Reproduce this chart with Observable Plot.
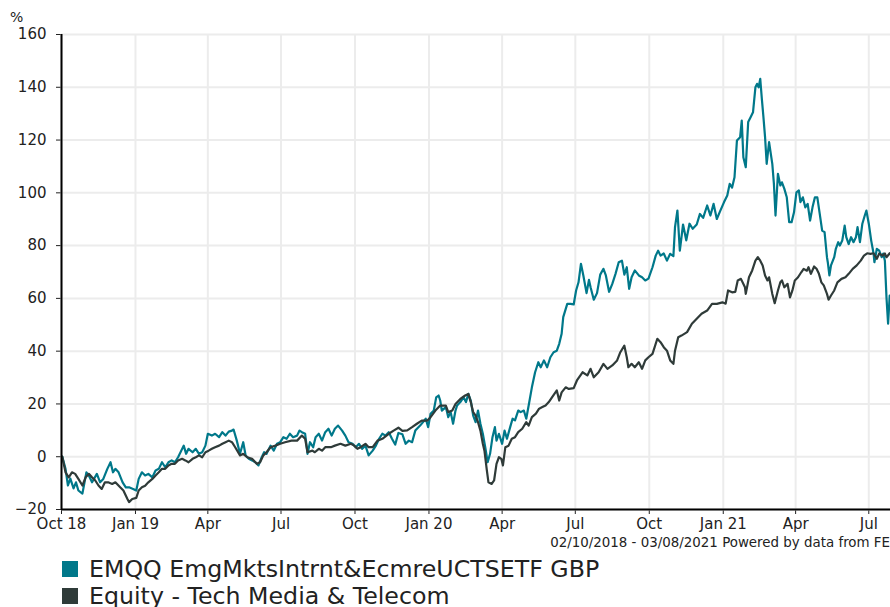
<!DOCTYPE html>
<html><head><meta charset="utf-8">
<script src="https://cdn.jsdelivr.net/npm/d3@7"></script>
<script src="https://cdn.jsdelivr.net/npm/@observablehq/plot@0.6"></script>
<style>
body{margin:0;background:#fff;font-family:"DejaVu Sans",Verdana,sans-serif;color:#222;}
#wrap{position:relative;width:890px;height:607px;overflow:hidden;}
#chart{position:absolute;left:0;top:0;}
#unit{position:absolute;left:10px;top:9px;font-size:14px;}
#caption{position:absolute;right:0;top:535px;font-size:13.4px;white-space:nowrap;}
#legend{position:absolute;left:62px;top:555px;font-size:23.7px;}
.item{display:flex;align-items:center;height:27px;white-space:nowrap;}
.sw{width:16px;height:16px;margin-right:11px;flex:none;}
</style></head><body>
<div id="wrap"><div id="chart"></div><div id="unit">%</div><div id="caption"></div><div id="legend"></div></div>
<script>
const seriesNames = ["EMQQ EmgMktsIntrnt&EcmreUCTSETF GBP", "Equity - Tech Media & Telecom"];
const seriesColors = ["#00788a", "#2f3b39"];
const captionText = "02/10/2018 - 03/08/2021 Powered by data from FE";
const unitLabel = "%";
const yTicks = [-20, 0, 20, 40, 60, 80, 100, 120, 140, 160];
const xTickDates = ["2018-10-01","2019-01-01","2019-04-01","2019-07-01","2019-10-01","2020-01-01","2020-04-01","2020-07-01","2020-10-01","2021-01-01","2021-04-01","2021-07-01"];
const xTickLabels = ["Oct 18","Jan 19","Apr","Jul","Oct","Jan 20","Apr","Jul","Oct","Jan 21","Apr","Jul"];
const xDomain = ["2018-10-01", "2021-07-28"];

const emqqDates = ["2018-10-02","2018-10-06","2018-10-09","2018-10-12","2018-10-16","2018-10-19","2018-10-22","2018-10-27","2018-11-01","2018-11-04","2018-11-08","2018-11-14","2018-11-18","2018-11-22","2018-11-27","2018-12-01","2018-12-04","2018-12-07","2018-12-11","2018-12-16","2018-12-20","2018-12-24","2018-12-29","2019-01-02","2019-01-05","2019-01-09","2019-01-13","2019-01-17","2019-01-22","2019-01-26","2019-01-30","2019-02-03","2019-02-07","2019-02-11","2019-02-15","2019-02-19","2019-02-23","2019-03-02","2019-03-05","2019-03-08","2019-03-13","2019-03-17","2019-03-21","2019-03-25","2019-03-29","2019-04-01","2019-04-06","2019-04-10","2019-04-15","2019-04-19","2019-04-23","2019-04-27","2019-05-01","2019-05-03","2019-05-07","2019-05-11","2019-05-15","2019-05-18","2019-05-22","2019-05-26","2019-05-30","2019-06-03","2019-06-07","2019-06-10","2019-06-13","2019-06-18","2019-06-22","2019-06-26","2019-06-30","2019-07-04","2019-07-08","2019-07-12","2019-07-16","2019-07-21","2019-07-24","2019-07-27","2019-07-31","2019-08-03","2019-08-06","2019-08-10","2019-08-13","2019-08-17","2019-08-21","2019-08-25","2019-08-29","2019-09-02","2019-09-06","2019-09-10","2019-09-15","2019-09-19","2019-09-23","2019-09-28","2019-10-02","2019-10-06","2019-10-10","2019-10-14","2019-10-18","2019-10-23","2019-10-27","2019-10-31","2019-11-04","2019-11-08","2019-11-12","2019-11-16","2019-11-20","2019-11-24","2019-11-29","2019-12-03","2019-12-07","2019-12-11","2019-12-15","2019-12-21","2019-12-28","2019-12-31","2020-01-03","2020-01-07","2020-01-10","2020-01-13","2020-01-15","2020-01-17","2020-01-22","2020-01-25","2020-01-28","2020-01-31","2020-02-03","2020-02-05","2020-02-09","2020-02-13","2020-02-16","2020-02-19","2020-02-22","2020-02-25","2020-02-28","2020-03-02","2020-03-05","2020-03-08","2020-03-11","2020-03-14","2020-03-17","2020-03-20","2020-03-23","2020-03-25","2020-03-28","2020-04-01","2020-04-04","2020-04-07","2020-04-11","2020-04-14","2020-04-17","2020-04-21","2020-04-24","2020-04-28","2020-05-01","2020-05-04","2020-05-08","2020-05-12","2020-05-16","2020-05-19","2020-05-23","2020-05-27","2020-05-31","2020-06-04","2020-06-08","2020-06-11","2020-06-14","2020-06-16","2020-06-21","2020-06-25","2020-06-29","2020-07-02","2020-07-05","2020-07-08","2020-07-11","2020-07-15","2020-07-18","2020-07-20","2020-07-24","2020-07-28","2020-08-01","2020-08-05","2020-08-08","2020-08-12","2020-08-16","2020-08-20","2020-08-24","2020-08-28","2020-08-31","2020-09-03","2020-09-06","2020-09-09","2020-09-13","2020-09-18","2020-09-22","2020-09-26","2020-09-30","2020-10-05","2020-10-09","2020-10-12","2020-10-15","2020-10-19","2020-10-23","2020-10-27","2020-10-31","2020-11-02","2020-11-05","2020-11-08","2020-11-12","2020-11-16","2020-11-20","2020-11-24","2020-11-29","2020-12-03","2020-12-07","2020-12-12","2020-12-16","2020-12-20","2020-12-24","2020-12-28","2021-01-02","2021-01-06","2021-01-09","2021-01-12","2021-01-15","2021-01-18","2021-01-22","2021-01-24","2021-01-26","2021-01-29","2021-02-01","2021-02-04","2021-02-07","2021-02-10","2021-02-12","2021-02-14","2021-02-16","2021-02-18","2021-02-20","2021-02-22","2021-02-24","2021-02-27","2021-03-03","2021-03-05","2021-03-07","2021-03-10","2021-03-13","2021-03-15","2021-03-18","2021-03-21","2021-03-24","2021-03-27","2021-03-30","2021-04-02","2021-04-05","2021-04-07","2021-04-10","2021-04-13","2021-04-16","2021-04-19","2021-04-22","2021-04-25","2021-04-28","2021-05-01","2021-05-04","2021-05-07","2021-05-10","2021-05-11","2021-05-13","2021-05-15","2021-05-19","2021-05-21","2021-05-24","2021-05-26","2021-05-29","2021-06-01","2021-06-03","2021-06-06","2021-06-09","2021-06-12","2021-06-15","2021-06-17","2021-06-20","2021-06-23","2021-06-26","2021-06-28","2021-07-01","2021-07-04","2021-07-07","2021-07-08","2021-07-11","2021-07-14","2021-07-17","2021-07-19","2021-07-21","2021-07-23","2021-07-25","2021-07-27"];
const emqqValues = [0,-4.6,-10.9,-8.3,-12,-9.7,-12.8,-14,-5.9,-7.1,-9.7,-6.5,-9.7,-8.4,-4.6,-2.1,-5.9,-4.6,-5.9,-9.7,-11.6,-11.6,-12.2,-12.8,-8.4,-5.9,-7.1,-6.5,-7.8,-5.2,-4.6,-2.1,-4,-2.1,-1.4,-2.1,-0.2,4.2,1.1,3,1.7,3,1.1,1.7,4.2,8.7,8,8.7,7.4,9.3,8,9.5,9.9,10.3,6.1,1.1,5.5,0.5,-0.8,-1.4,-2.1,-3.3,-0.2,1.7,1.1,4.2,2.3,4.9,5.5,7.4,6.8,8.7,7.4,8,9.9,9.3,8.7,1.1,5.5,3.6,7.4,8.7,6.1,9.3,10.6,8,10.6,11.8,9.9,8,5.5,4.9,3.6,4.9,3,4.2,0.5,2.3,4.2,6.8,8.7,8,9.3,6.8,4.6,9,8.5,4.9,6.1,5.5,9.9,11.8,14.4,11.2,16.3,17.5,22.5,23.2,21.3,17.5,18.8,15,16.9,12.5,17.5,19.4,20.7,22.5,20.7,23.8,21.3,15.6,13.1,17.5,12.5,8.7,3.6,-2.1,1.1,7.4,11.2,6.1,8.7,4.9,9.9,6.8,11.2,14.4,13.8,17.5,16.9,17.5,14.4,19.4,26.3,32,35.8,33.9,36.5,33.9,37.7,39.6,40.2,42.8,46.6,52.9,57.9,57.9,57.7,63,66.1,73.1,68.7,62,67,64.2,59.5,62,69,71.2,68.7,62.5,65.5,69.3,73.7,74.3,69,71.8,63.6,68,70.6,68.7,68,66.8,67.5,71.8,76.2,78.1,76.2,77,74.3,76.9,76,87,93.3,78.1,88,82,88.3,86.4,88,92,90.5,95.2,91.4,95.8,90.1,93,96.5,99,103.4,102,105.9,119.8,121.1,127.4,113.5,109.7,126.8,128.6,130.5,140,141.3,140,143.2,135.6,128.6,121.1,111,119.2,111,103.4,91.4,107.2,102.8,104,101.5,98.3,88.9,88.9,92.6,100.2,100.9,96.5,98.3,94.5,95.8,89.5,94.5,98.3,98.3,92,85.7,85.1,75.6,73.7,68.7,72.5,75.6,78.8,81.3,80,81.9,87.6,83.2,80.6,83.2,81.3,83.2,87,81.3,88.3,91.4,93.3,88.3,81.9,76.9,73.7,78.8,78.1,75.6,77,74.3,60.4,50.4,61.1];

const tmtDates = ["2018-10-02","2018-10-06","2018-10-10","2018-10-14","2018-10-18","2018-10-22","2018-10-27","2018-10-31","2018-11-04","2018-11-08","2018-11-12","2018-11-16","2018-11-20","2018-11-24","2018-11-28","2018-12-03","2018-12-07","2018-12-13","2018-12-17","2018-12-22","2018-12-24","2018-12-28","2019-01-02","2019-01-05","2019-01-09","2019-01-13","2019-01-17","2019-01-22","2019-01-26","2019-01-30","2019-02-03","2019-02-07","2019-02-11","2019-02-15","2019-02-19","2019-02-23","2019-02-28","2019-03-04","2019-03-08","2019-03-13","2019-03-17","2019-03-21","2019-03-25","2019-03-29","2019-04-02","2019-04-06","2019-04-10","2019-04-15","2019-04-19","2019-04-23","2019-04-27","2019-05-01","2019-05-05","2019-05-11","2019-05-15","2019-05-20","2019-05-26","2019-06-01","2019-06-05","2019-06-09","2019-06-13","2019-06-18","2019-06-24","2019-06-30","2019-07-06","2019-07-14","2019-07-21","2019-07-27","2019-07-31","2019-08-03","2019-08-09","2019-08-12","2019-08-17","2019-08-21","2019-08-25","2019-09-01","2019-09-06","2019-09-13","2019-09-19","2019-09-26","2019-09-30","2019-10-04","2019-10-08","2019-10-14","2019-10-18","2019-10-23","2019-10-29","2019-11-04","2019-11-12","2019-11-18","2019-11-24","2019-11-29","2019-12-05","2019-12-11","2019-12-17","2019-12-23","2019-12-30","2020-01-03","2020-01-09","2020-01-15","2020-01-22","2020-01-25","2020-01-30","2020-02-03","2020-02-09","2020-02-15","2020-02-19","2020-02-22","2020-02-25","2020-02-28","2020-03-02","2020-03-05","2020-03-08","2020-03-10","2020-03-13","2020-03-15","2020-03-19","2020-03-22","2020-03-25","2020-03-28","2020-03-31","2020-04-02","2020-04-05","2020-04-09","2020-04-13","2020-04-17","2020-04-21","2020-04-26","2020-05-01","2020-05-04","2020-05-08","2020-05-13","2020-05-17","2020-05-21","2020-05-25","2020-05-29","2020-06-02","2020-06-05","2020-06-08","2020-06-11","2020-06-14","2020-06-19","2020-06-23","2020-06-29","2020-07-03","2020-07-10","2020-07-16","2020-07-20","2020-07-24","2020-07-30","2020-08-05","2020-08-10","2020-08-16","2020-08-22","2020-08-26","2020-08-31","2020-09-03","2020-09-05","2020-09-09","2020-09-13","2020-09-18","2020-09-22","2020-09-26","2020-09-30","2020-10-05","2020-10-11","2020-10-15","2020-10-19","2020-10-23","2020-10-27","2020-10-31","2020-11-02","2020-11-06","2020-11-10","2020-11-17","2020-11-23","2020-11-29","2020-12-05","2020-12-12","2020-12-18","2020-12-24","2020-12-31","2021-01-04","2021-01-07","2021-01-12","2021-01-16","2021-01-19","2021-01-23","2021-01-28","2021-01-29","2021-02-02","2021-02-06","2021-02-10","2021-02-13","2021-02-16","2021-02-19","2021-02-22","2021-02-25","2021-02-27","2021-03-03","2021-03-06","2021-03-10","2021-03-13","2021-03-15","2021-03-18","2021-03-22","2021-03-25","2021-03-28","2021-03-31","2021-04-04","2021-04-08","2021-04-11","2021-04-15","2021-04-17","2021-04-20","2021-04-24","2021-04-27","2021-04-30","2021-05-03","2021-05-06","2021-05-10","2021-05-12","2021-05-15","2021-05-19","2021-05-23","2021-05-28","2021-06-02","2021-06-06","2021-06-11","2021-06-16","2021-06-21","2021-06-25","2021-06-29","2021-07-03","2021-07-07","2021-07-11","2021-07-14","2021-07-18","2021-07-21","2021-07-23","2021-07-27"];
const tmtValues = [0,-5.9,-7.8,-5.9,-6.5,-8.4,-10.9,-7.8,-6.5,-7.8,-9,-10.9,-12.2,-9.7,-9.7,-10.3,-9.7,-11.6,-12.8,-16,-17.2,-16,-15.6,-12.8,-11.6,-11,-9.7,-8.4,-7.1,-5.9,-4.6,-4.6,-3.3,-2.7,-2.7,-1.4,-0.8,-1.4,-2.1,-0.8,-0.2,0.5,-0.2,1.7,2.3,3,3.6,4.2,4.9,5.5,6.1,5.5,3.6,0.5,1.1,-0.2,-0.8,-2.7,-2.1,0.5,1.7,3.6,4.2,4.9,5.5,6.1,6.1,8,6.8,1.7,2.3,1.7,3,2.3,3.6,3.6,4.2,4.9,4.2,4.9,4.2,3,3.6,4.9,3.6,3.6,6.1,6.8,8.7,9.9,11,9.8,10,11.2,12.5,13.7,13.7,15,17.5,19.4,19.4,16.9,17.5,20,21.9,23.2,23.8,20.7,16.9,15.6,13.1,9.9,4.9,2.3,-5.2,-9.7,-10.3,-9,-2.7,-0.2,-0.8,-3.3,3.6,4.2,6.8,7.4,9.3,10.6,13.1,11.8,15,16.3,18.2,18.8,19.4,20.7,22.5,23.8,25.1,21.3,24.4,26.3,25.7,26,28.9,32,30.8,33.3,30.1,32,35.2,33.3,34.6,36.5,39.6,42.1,37.7,33.9,35.2,33.9,35.8,33.3,36.5,37.7,39,44.7,43.4,41.5,40.2,36.5,35.2,40.2,45.3,45.9,47.2,50.4,52.3,54.2,55.4,57.9,57.9,58.5,58,63,62.3,62.5,66.8,67.4,64.2,61.7,68,70.6,74.3,75.6,74.3,72.5,68.7,66.8,68,61.7,58.2,63,66.1,66.8,64.2,65.5,60.4,63,66.8,68,69.9,71.2,70.5,71.8,69.3,72.1,71.2,69.3,66.1,64.9,61.7,59.5,61.1,63,66.1,67.4,68,69.3,71.2,72.5,74.3,76.2,77.1,76.9,77.1,75,77,76.2,77,75.6,77.1];

const parse = d3.utcParse("%Y-%m-%d");
const emqq = emqqDates.map((d, i) => ({date: parse(d), value: emqqValues[i]}));
const tmt = tmtDates.map((d, i) => ({date: parse(d), value: tmtValues[i]}));
const tickDates = xTickDates.map(parse);
const labelMap = new Map(tickDates.map((d, i) => [+d, xTickLabels[i]]));

const chart = Plot.plot({
  width: 890,
  height: 535,
  marginTop: 34,
  marginBottom: 26,
  marginLeft: 61,
  marginRight: 0,
  style: {fontFamily: "DejaVu Sans, Verdana, sans-serif", fontSize: "15px", color: "#222", background: "#fff", overflow: "visible"},
  x: {type: "utc", domain: xDomain.map(parse), ticks: tickDates, tickFormat: d => labelMap.get(+d), tickSize: 5, tickPadding: 4, label: null},
  y: {domain: [yTicks[0], yTicks[yTicks.length - 1]], ticks: yTicks, tickSize: 5, tickPadding: 10, label: null},
  marks: [
    Plot.ruleY(yTicks, {stroke: "#ececec", strokeWidth: 2}),
    Plot.ruleX(tickDates, {stroke: "#ececec", strokeWidth: 2}),
    Plot.line(emqq, {x: "date", y: "value", stroke: seriesColors[0], strokeWidth: 2.2, clip: true}),
    Plot.line(tmt, {x: "date", y: "value", stroke: seriesColors[1], strokeWidth: 2.2, clip: true}),
    Plot.ruleX([tickDates[0]], {stroke: "#000", strokeWidth: 2}),
    Plot.ruleY([yTicks[0]], {stroke: "#000", strokeWidth: 2})
  ]
});
document.getElementById("chart").appendChild(chart);
document.getElementById("unit").textContent = unitLabel;
document.getElementById("caption").textContent = captionText;
const legend = document.getElementById("legend");
seriesNames.forEach((name, i) => {
  const item = document.createElement("div");
  item.className = "item";
  const sw = document.createElement("div");
  sw.className = "sw";
  sw.style.background = seriesColors[i];
  const label = document.createElement("span");
  label.textContent = name;
  item.appendChild(sw);
  item.appendChild(label);
  legend.appendChild(item);
});
</script>
</body></html>
